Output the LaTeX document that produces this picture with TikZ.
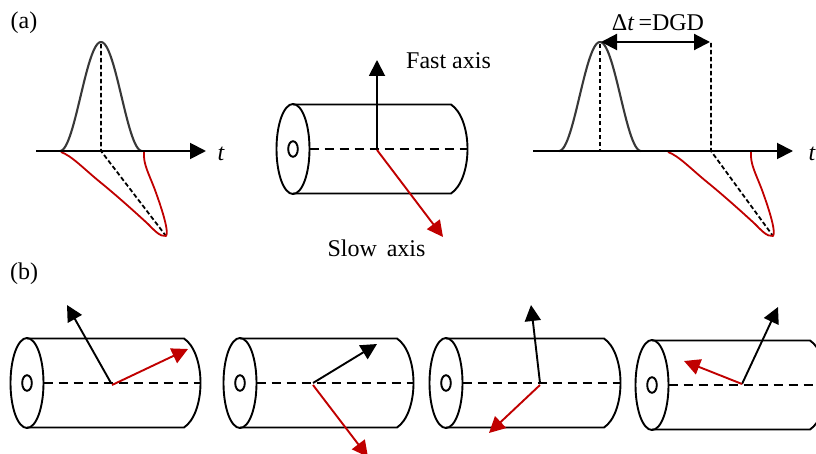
\documentclass[tikz,border=0pt]{standalone}
\usepackage{fontspec}
\setmainfont{Liberation Serif}
\usetikzlibrary{arrows.meta}
\definecolor{redax}{RGB}{192,0,0}
\tikzset{
  outline/.style={line width=1.9pt,black},
  pulse/.style={line width=2.1pt,black!78},
  lobe/.style={line width=1.8pt,redax},
  axisdash/.style={line width=1.8pt,dash pattern=on 9pt off 6pt},
  fine/.style={line width=1.8pt,dash pattern=on 4.5pt off 2.5pt},
  blackarrow/.style={line width=1.9pt,black,-{Triangle[length=16pt,width=16pt]}},
  redarrow/.style={line width=1.9pt,redax,-{Triangle[length=16pt,width=16pt]}},
  label/.style={font=\fontsize{24}{26}\selectfont,inner sep=0pt},
}
% #1 ellipse centre x, #2 centre y, #3 arc start x
\newcommand{\fibre}[3]{%
  \draw[outline] (#1,#2) ellipse [x radius=16.5pt,y radius=45pt];
  \draw[outline] (#1,#2) ellipse [x radius=4.8pt,y radius=7.8pt];
  \draw[outline] (#1,#2-44.5) -- (#3,#2-44.5)
     .. controls (#3+10,#2-38) and (#3+16.5,#2-20) .. (#3+16.5,#2)
     .. controls (#3+16.5,#2+20) and (#3+10,#2+38) .. (#3,#2+44.5) -- (#1,#2+44.5);
  \draw[axisdash] (#1+16.5,#2) -- (#3+16.5,#2);
}
% #1 x offset
\newcommand{\redlobe}[1]{%
  \begin{scope}[xshift=#1pt]
  \draw[lobe,line join=round] (61,152) .. controls (72,156) and (84,169) .. (100,182)
     .. controls (116,195) and (135,212) .. (148,224)
     .. controls (154,230) and (160,237) .. (166,236)
     .. controls (169,232) and (163,212) .. (155,190)
     .. controls (149,174) and (143,164) .. (144,152);
  \end{scope}
}
\begin{document}
\begin{tikzpicture}[x=1pt,y=-1pt]
\useasboundingbox (0,0) rectangle (816,454);
\clip (0,0) rectangle (816,454);
\node[label] (la) at (24,23) {(a)};
\node[label] (lb) at (24,274) {(b)};
% left pulse
\draw[pulse,smooth] plot[domain=-41:41,samples=60] ({101+\x},{151-109*(0.5+0.5*cos(\x*180/41))});
\draw[fine] (101,44) -- (101,151) -- (166,236);
\redlobe{0}
\draw[blackarrow] (36,151) -- (206,151);
\node[label,font=\fontsize{24}{26}\selectfont\itshape] (t1) at (221,154) {t};
% centre fibre
\fibre{293}{149}{451}
\draw[blackarrow] (377,149) -- (377,60);
\draw[redarrow] (377,150) -- (443,237);
\node[label] (fast) at (448.5,61) {Fast axis};
\node[label] (slow) at (376.5,248) {Slow\, axis};
% right pulse
\draw[pulse,smooth] plot[domain=-41:41,samples=60] ({600+\x},{151-109*(0.5+0.5*cos(\x*180/41))});
\draw[fine] (600,44) -- (600,151);
\draw[fine] (711,43) -- (711,151) -- (773,236);
\redlobe{607}
\draw[blackarrow] (533,151) -- (793,151);
\node[label,font=\fontsize{24}{26}\selectfont\itshape] (t2) at (812,154) {t};
\draw[line width=2.1pt,{Triangle[length=16pt,width=16pt]}-{Triangle[length=16pt,width=16pt]}] (601,42) -- (710,42);
\node[label] (dgd) at (658,23) {Δ\textit{t}\,=DGD};
% bottom row
\fibre{27}{383}{184}
\draw[blackarrow] (111,383) -- (67,305);
\draw[redarrow] (112,385) -- (188,349);
\fibre{240}{383}{397}
\draw[blackarrow] (313,383) -- (377,344);
\draw[redarrow] (313,385) -- (368,457);
\fibre{446}{383}{604}
\draw[blackarrow] (540,383) -- (531,305);
\draw[redarrow] (540,385) -- (489,433);
\fibre{652}{385}{810}
\draw[blackarrow] (742,384) -- (778,307);
\draw[redarrow] (742,384) -- (684,361);
\end{tikzpicture}
\end{document}
